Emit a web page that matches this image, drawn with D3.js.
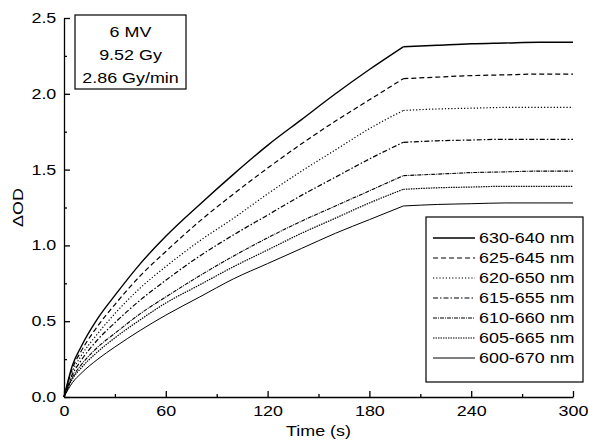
<!DOCTYPE html>
<html>
<head>
<meta charset="utf-8">
<script src="https://cdn.jsdelivr.net/npm/d3@7"></script>
<style>
  body { margin: 0; background: #fff; }
  text { font-family: "Liberation Sans", Arial, sans-serif; fill: #000; }
</style>
</head>
<body>
<div id="chart"></div>
<script>
// time samples (s)
const times = [0, 5, 10, 20, 30, 45, 60, 80, 100, 120, 140, 160, 180, 200, 220, 240, 260, 280, 300];

// ΔOD per wavelength band
const od630_640 = [0, 0.21, 0.33, 0.52, 0.67, 0.88, 1.06, 1.27, 1.47, 1.66, 1.83, 2.00, 2.16, 2.31, 2.32, 2.33, 2.335, 2.34, 2.34];
const od625_645 = [0, 0.19, 0.30, 0.47, 0.61, 0.80, 0.96, 1.16, 1.34, 1.51, 1.67, 1.82, 1.96, 2.10, 2.11, 2.12, 2.125, 2.13, 2.13];
const od620_650 = [0, 0.17, 0.27, 0.42, 0.55, 0.72, 0.86, 1.03, 1.18, 1.34, 1.49, 1.63, 1.77, 1.89, 1.90, 1.905, 1.91, 1.91, 1.91];
const od615_655 = [0, 0.15, 0.24, 0.38, 0.49, 0.64, 0.77, 0.93, 1.07, 1.20, 1.33, 1.45, 1.57, 1.68, 1.69, 1.695, 1.70, 1.70, 1.70];
const od610_660 = [0, 0.13, 0.21, 0.33, 0.42, 0.55, 0.66, 0.80, 0.93, 1.05, 1.16, 1.26, 1.36, 1.46, 1.47, 1.48, 1.485, 1.49, 1.49];
const od605_665 = [0, 0.12, 0.19, 0.30, 0.39, 0.51, 0.62, 0.74, 0.86, 0.97, 1.08, 1.18, 1.28, 1.37, 1.38, 1.385, 1.39, 1.39, 1.39];
const od600_670 = [0, 0.095, 0.155, 0.25, 0.33, 0.44, 0.54, 0.66, 0.78, 0.88, 0.98, 1.08, 1.17, 1.26, 1.27, 1.275, 1.28, 1.28, 1.28];

const bandLabels = ["630-640 nm", "625-645 nm", "620-650 nm", "615-655 nm", "610-660 nm", "605-665 nm", "600-670 nm"];
const bandValues = [od630_640, od625_645, od620_650, od615_655, od610_660, od605_665, od600_670];
const dashes = ["none", "5,3", "1.2,2", "5,2,1.5,2", "4,1,1,1", "1.5,1", "none"];
const widths = [1.4, 1.2, 1.2, 1.2, 1.1, 1.2, 1.0];

const xTicks = [0, 60, 120, 180, 240, 300];
const yTicks = [0.0, 0.5, 1.0, 1.5, 2.0, 2.5];
const infoLines = ["6 MV", "9.52 Gy", "2.86 Gy/min"];

const width = 589, height = 444;
const marginLeft = 64, marginRight = 16, marginTop = 18, marginBottom = 47;
const stretch = "scale(1.28,1)"; // the source font is wider than Liberation Sans
const irradiationEnd = 200;

const svg = d3.select("#chart")
  .append("svg")
    .attr("width", width)
    .attr("height", height);

const x = d3.scaleLinear()
  .domain([0, 300])
  .range([marginLeft, width - marginRight]);
const y = d3.scaleLinear()
  .domain([0, 2.5])
  .range([height - marginBottom, marginTop]);

// minor ticks
const xMinor = d3.range(30, 300, 60);
const yMinor = d3.range(0.25, 2.5, 0.5);

svg.append("g")
  .attr("transform", "translate(0," + y(0) + ")")
  .call(d3.axisBottom(x).tickValues(xMinor).tickSize(-3).tickFormat(""))
  .call(g => g.select(".domain").remove());
const xAxis = svg.append("g")
  .attr("transform", "translate(0," + y(0) + ")")
  .call(d3.axisBottom(x).tickValues(xTicks).tickSize(-6).tickSizeOuter(0).tickPadding(9).tickFormat(d3.format("d")));
xAxis.selectAll("text")
  .attr("font-size", 14)
  .attr("transform", stretch)
  .style("font-family", "Liberation Sans, Arial, sans-serif");

svg.append("g")
  .attr("transform", "translate(" + x(0) + ",0)")
  .call(d3.axisLeft(y).tickValues(yMinor).tickSize(-3).tickFormat(""))
  .call(g => g.select(".domain").remove());
const yAxis = svg.append("g")
  .attr("transform", "translate(" + x(0) + ",0)")
  .call(d3.axisLeft(y).tickValues(yTicks).tickSize(-6).tickSizeOuter(0).tickPadding(6).tickFormat(d3.format(".1f")));
yAxis.selectAll("text")
  .attr("font-size", 14)
  .attr("transform", stretch)
  .style("font-family", "Liberation Sans, Arial, sans-serif");

svg.selectAll(".domain, .tick line").attr("stroke", "#000").attr("stroke-width", 1.3);

// curves: rise during irradiation, then the post-irradiation plateau
const line = d3.line()
  .x(d => x(d.t))
  .y(d => y(d.v))
  .curve(d3.curveMonotoneX);

bandValues.forEach((vals, i) => {
  const pts = vals.map((v, k) => ({t: times[k], v: v}));
  const rise = pts.filter(p => p.t <= irradiationEnd);
  const hold = pts.filter(p => p.t >= irradiationEnd);
  [rise, hold].forEach(seg => {
    svg.append("path")
      .datum(seg)
      .attr("fill", "none")
      .attr("stroke", "#000")
      .attr("stroke-width", widths[i])
      .attr("stroke-dasharray", dashes[i])
      .attr("d", line);
  });
});

// axis titles
svg.append("text")
  .attr("transform", "translate(" + ((x(0) + x(300)) / 2) + ",436) " + stretch)
  .attr("text-anchor", "middle")
  .attr("font-size", 14)
  .text("Time (s)");

svg.append("text")
  .attr("transform", "translate(23," + y(1.25) + ") rotate(-90) " + stretch)
  .attr("text-anchor", "middle")
  .attr("font-size", 14)
  .text("ΔOD");

// info box
svg.append("rect")
  .attr("x", 75).attr("y", 15)
  .attr("width", 111).attr("height", 74)
  .attr("fill", "#fff").attr("stroke", "#000").attr("stroke-width", 1.2);
svg.selectAll(".info")
  .data(infoLines)
  .enter().append("text")
    .attr("class", "info")
    .attr("transform", (d, i) => "translate(130.5," + (36.5 + i * 23) + ") " + stretch)
    .attr("text-anchor", "middle")
    .attr("font-size", 14)
    .text(d => d);

// legend
const legend = svg.append("g");
legend.append("rect")
  .attr("x", 426).attr("y", 217)
  .attr("width", 157).attr("height", 165)
  .attr("fill", "#fff").attr("stroke", "#000").attr("stroke-width", 1.2);
bandLabels.forEach((lab, i) => {
  const ly = 238 + i * 20;
  legend.append("line")
    .attr("x1", 433).attr("x2", 475)
    .attr("y1", ly).attr("y2", ly)
    .attr("stroke", "#000")
    .attr("stroke-width", widths[i])
    .attr("stroke-dasharray", dashes[i]);
  legend.append("text")
    .attr("transform", "translate(479," + (ly + 5) + ") " + stretch)
    .attr("font-size", 14)
    .text(lab);
});
</script>
</body>
</html>
